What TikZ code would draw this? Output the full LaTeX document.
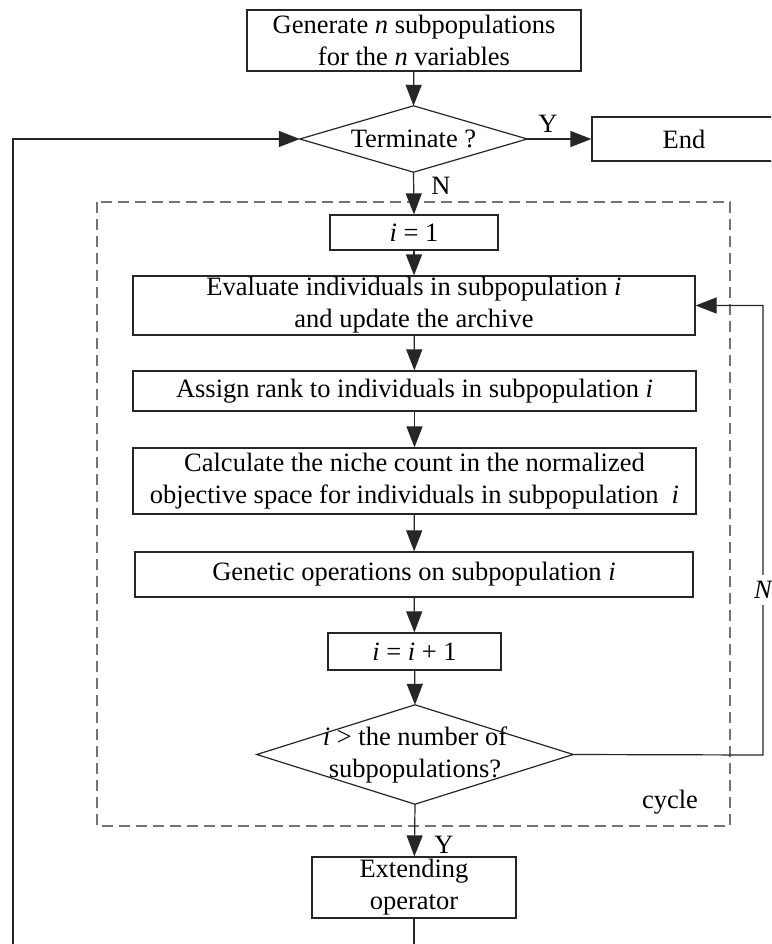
\documentclass[tikz,border=0pt]{standalone}
\usepackage{fontspec}
\setmainfont{Liberation Serif}
\usetikzlibrary{arrows.meta,calc}

\tikzset{
  base/.style={font=\fontsize{26.5}{32}\selectfont, align=center, inner sep=0pt},
  procbox/.style={base, draw=black!85, line width=1.2pt, rectangle},
  decbox/.style={base, rectangle},
  flow/.style={draw=black!85, line width=1.2pt, -{Triangle[length=21pt,width=16pt]}},
  plainline/.style={draw=black!85, line width=1.2pt},
  lbl/.style={font=\fontsize{26.5}{32}\selectfont, inner sep=0pt},
  cyclebox/.style={draw=black!55, line width=1.5pt, dash pattern=on 11pt off 6pt},
}

% box placed by its corners: #1 left, #2 top, #3 right, #4 bottom
\newcommand{\cornerbox}[7]{%
  \node[#1, minimum width={#5-#3}, minimum height={#6-#4}] (#2) at ({(#3+#5)/2},{(#4+#6)/2}) {#7};}

\begin{document}
\begin{tikzpicture}[x=1pt,y=-1pt]
  \useasboundingbox (0,0) rectangle (771,944);
  \clip (0,0) rectangle (771,944);
  \fill[white] (0,0) rectangle (771,944);

  % loop boundary
  \draw[cyclebox] (97,202) rectangle (730,826);
  \node[lbl] (cyc) at (670,802) {cycle};

  % process boxes
  \cornerbox{procbox}{gen}{247}{10}{581}{71}{Generate \textit{n} subpopulations\\for the \textit{n} variables}
  \cornerbox{procbox}{stop}{592}{117}{776}{161}{End}
  \cornerbox{procbox}{init}{330}{215}{498}{250}{\textit{i} = 1}
  \cornerbox{procbox}{eval}{133}{276}{695}{335}{Evaluate individuals in subpopulation \textit{i}\\and update the archive}
  \cornerbox{procbox}{rank}{133}{371}{696}{411}{Assign rank to individuals in subpopulation \textit{i}}
  \cornerbox{procbox}{niche}{133}{448}{696}{514}{Calculate the niche count in the normalized\\objective space for individuals in subpopulation\ \ \textit{i}}
  \cornerbox{procbox}{gen2}{135}{552}{693}{597}{Genetic operations on subpopulation \textit{i}}
  \cornerbox{procbox}{incr}{328}{633}{501}{670}{\textit{i} = \textit{i} + 1}
  \cornerbox{procbox}{ext}{312}{857}{516}{918}{Extending\\operator}

  % decisions
  \cornerbox{decbox}{term}{300}{106}{527}{172}{Terminate ?}
  \cornerbox{decbox}{cnt}{257}{705}{573}{804}{\textit{i} > the number of\\subpopulations?}
  \foreach \d in {term,cnt}
    \draw[plainline] (\d.north) -- (\d.east) -- (\d.south) -- (\d.west) -- cycle;

  % main flow
  \draw[flow] (gen) -- (term.north);
  \draw[flow] (term.east) -- (stop.west);
  \draw[flow] (term.south) -- (init.north);
  \draw[flow] (init) -- (eval);
  \draw[flow] (eval) -- (rank);
  \draw[flow] (rank) -- (niche);
  \draw[flow] (niche) -- (gen2);
  \draw[flow] (gen2) -- (incr);
  \draw[flow] (incr) -- (cnt.north);
  \draw[flow] (cnt.south) -- (ext);

  % back to the next subpopulation
  \coordinate (rt) at (763,755);
  \draw[flow] (cnt.east) -- (rt) |- (eval.east);
  \node[lbl, fill=white, inner ysep=6pt, font=\fontsize{26.5}{32}\selectfont\itshape] (nlab) at (763,590) {N};

  % back to the termination test
  \coordinate (lb) at (13,960);
  \draw[flow] (ext.south) -- (ext.south |- lb) -- (lb) |- (term.west);

  % branch labels
  \node[lbl] (ylab1) at (548,124) {Y};
  \node[lbl] (nlab1) at (441,186) {N};
  \node[lbl] (ylab2) at (444,845) {Y};
\end{tikzpicture}
\end{document}
